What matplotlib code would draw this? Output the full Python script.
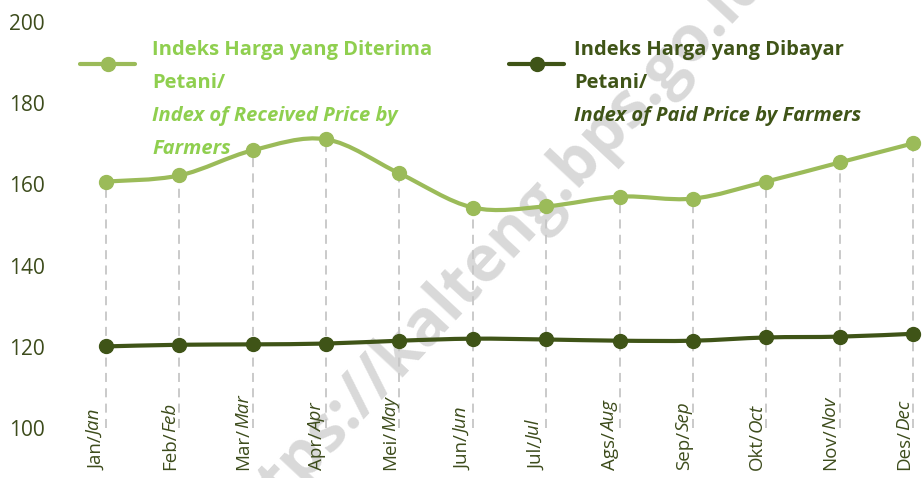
import numpy as np
import matplotlib
matplotlib.use("Agg")
import matplotlib.pyplot as plt
from matplotlib.path import Path
from matplotlib.patches import PathPatch
from matplotlib.lines import Line2D

plt.rcParams['font.family'] = ['Open Sans', 'DejaVu Sans']

# data
months_id = ["Jan", "Feb", "Mar", "Apr", "Mei", "Jun", "Jul", "Ags", "Sep", "Okt", "Nov", "Des"]
months_en = ["Jan", "Feb", "Mar", "Apr", "May", "Jun", "Jul", "Aug", "Sep", "Oct", "Nov", "Dec"]
received = [160.7, 162.2, 168.4, 171.1, 162.7, 154.3, 154.6, 157.0, 156.5, 160.7, 165.4, 170.1]
paid = [120.1, 120.5, 120.6, 120.8, 121.5, 122.0, 121.8, 121.5, 121.5, 122.3, 122.5, 123.2]
yticks = [100, 120, 140, 160, 180, 200]

c_recv = "#9BBB59"
c_recv_txt = "#8FCF4F"
c_paid = "#3F5417"
c_text = "#3D4C1C"

W, H = 922, 478


def smooth_path(x, y):
    # bezier path through the points (like excel's smoothed line)
    x = np.asarray(x, float)
    y = np.asarray(y, float)
    n = len(x)
    verts = [(x[0], y[0])]
    codes = [Path.MOVETO]
    for i in range(n - 1):
        xa, ya = (x[i - 1], y[i - 1]) if i > 0 else (x[i], y[i])
        xb, yb = (x[i + 2], y[i + 2]) if i + 2 < n else (x[i + 1], y[i + 1])
        c1 = (x[i] + (x[i + 1] - xa) / 6, y[i] + (y[i + 1] - ya) / 6)
        c2 = (x[i + 1] - (xb - x[i]) / 6, y[i + 1] - (yb - y[i]) / 6)
        verts += [c1, c2, (x[i + 1], y[i + 1])]
        codes += [Path.CURVE4] * 3
    return Path(verts, codes)


fig = plt.figure(figsize=(W / 100, H / 100), dpi=100)
ax = fig.add_axes([70 / W, 50 / H, (W - 70) / W, 406 / H])

x = np.arange(len(months_id))
px_per_unit = (913 - 106) / 11
ax.set_xlim(-(106 - 70) / px_per_unit, 11 + (W - 913) / px_per_unit)
ax.set_ylim(100, 200)

# drop lines
ax.vlines(x, 100, received, colors="#C6C6C6", linestyles=(0, (5, 3.5)), lw=1.3, zorder=1)

for vals, col in [(received, c_recv), (paid, c_paid)]:
    ax.add_patch(PathPatch(smooth_path(x, vals), fill=False, edgecolor=col, lw=3,
                           capstyle="round", joinstyle="round", zorder=3))
    ax.plot(x, vals, ls="none", marker="o", ms=10, color=col, zorder=4)

for s in ax.spines.values():
    s.set_visible(False)
ax.set_xticks([])
ax.set_yticks(yticks)
ax.tick_params(axis="y", length=0, pad=18, labelsize=15, labelcolor=c_text)

# month labels: indonesian regular + english italic
xt = ax.get_xaxis_transform()
for i in range(len(months_id)):
    t1 = ax.annotate(months_id[i] + "/", xy=(i, 0), xycoords=xt, xytext=(-3, -30),
                     textcoords="offset points", rotation=90, rotation_mode="anchor",
                     ha="left", va="baseline", fontsize=13.5, color=c_text, annotation_clip=False)
    ax.annotate(months_en[i], xy=(i, 1), xycoords=(xt, t1), xytext=(-3, -0.5),
                textcoords="offset points", rotation=90, rotation_mode="anchor",
                ha="left", va="baseline", fontsize=13.5, color=c_text, style="italic",
                annotation_clip=False)

# legend
for (x0, x1, col) in [(80, 135, c_recv), (509, 564, c_paid)]:
    yy = 1 - 64 / H
    fig.add_artist(Line2D([x0 / W, x1 / W], [yy, yy], color=col, lw=3,
                          solid_capstyle="round", transform=fig.transFigure))
    fig.add_artist(Line2D([(x0 + x1) / 2 / W], [yy], color=col, marker="o", ms=10,
                          transform=fig.transFigure))

recv_lines = [("Indeks Harga yang Diterima", "normal"), ("Petani/", "normal"),
              ("Index of Received Price by", "italic"), ("Farmers", "italic")]
paid_lines = [("Indeks Harga yang Dibayar", "normal"), ("Petani/", "normal"),
              ("Index of Paid Price by Farmers", "italic")]
for x0, lines, col in [(152, recv_lines, c_recv_txt), (574, paid_lines, c_paid)]:
    for k, (txt, st) in enumerate(lines):
        fig.text(x0 / W, 1 - (55 + 33 * k) / H, txt, va="baseline", ha="left",
                 fontsize=14.5, fontweight="bold", style=st, color=col, zorder=5)

# watermark
ax.text(490 / W, 1 - 255 / H, "https://kalteng.bps.go.id", transform=fig.transFigure,
        rotation=47, rotation_mode="anchor", ha="center", va="center",
        fontsize=46, fontweight="bold", color="#D9D9D9", zorder=0)

fig.savefig("out.png", dpi=100)
